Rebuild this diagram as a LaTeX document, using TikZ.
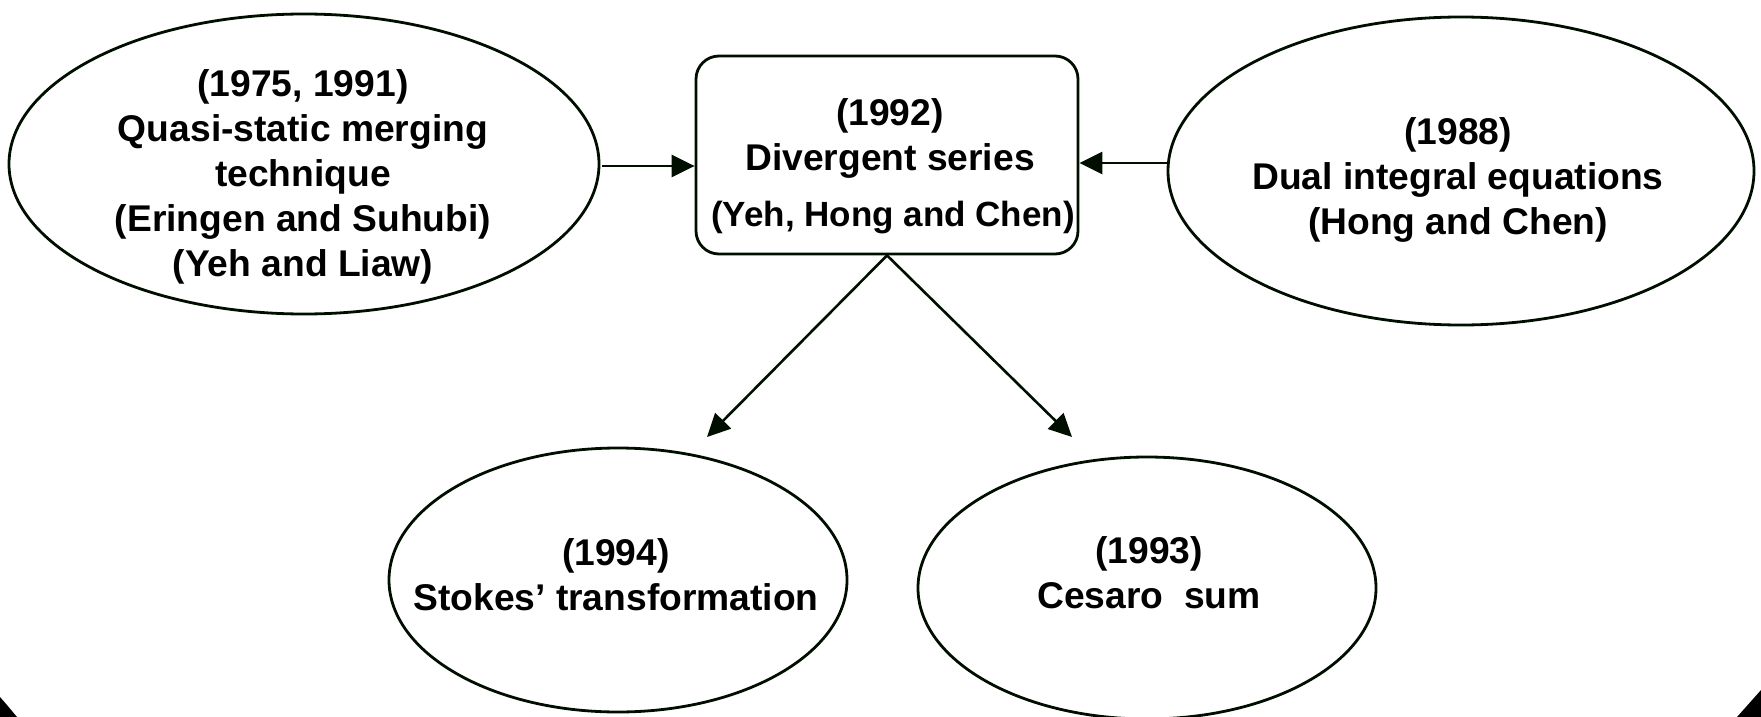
\documentclass[tikz,border=0pt]{standalone}
\usepackage{fontspec}
\setmainfont{Liberation Sans}
\usetikzlibrary{shapes.geometric,arrows.meta,calc}
\definecolor{ln}{RGB}{0,14,0}
\begin{document}
\begin{tikzpicture}[x=1pt,y=-1pt,
  ell/.style={draw=ln,line width=2.8pt,ellipse,inner sep=0pt},
  rbox/.style={draw=ln,line width=2.8pt,rectangle,rounded corners=23pt,inner sep=0pt},
  txt/.style={align=center,inner sep=0pt,font=\fontsize{37.2}{45}\selectfont\bfseries},
  conn/.style={draw=ln,line width=2.6pt,-{Triangle[length=23pt,width=22pt]}}]
\useasboundingbox (0,0) rectangle (1761,717);
\fill[black] (0,697) .. controls (7,705) .. (17,717) -- (0,717) -- cycle;
\fill[black] (1761,690) .. controls (1749,703) .. (1737,717) -- (1761,717) -- cycle;
% shapes
\node[ell,minimum width=590pt,minimum height=300pt] (qs) at (304,164) {};
\node[rbox,minimum width=382pt,minimum height=198pt] (ds) at (887,155) {};
\node[ell,minimum width=586pt,minimum height=308pt] (de) at (1461,171) {};
\node[ell,minimum width=458pt,minimum height=264pt] (st) at (618,580) {};
\node[ell,minimum width=458pt,minimum height=262pt] (cs) at (1147,588) {};
% texts
\node[txt] (qst) at (303,177) {(1975, 1991)\\Quasi-static merging\\technique\\(Eringen and Suhubi)\\(Yeh and Liaw)};
\node[txt] (dst) at (890,166) {(1992)\\Divergent series\\[11pt]\hspace*{6pt}{\fontsize{35}{45}\selectfont(Yeh, Hong and Chen)}};
\node[txt] (det) at (1458,180) {(1988)\\Dual integral equations\\(Hong and Chen)};
\node[txt] (stt) at (616,575) {(1994)\\Stokes’ transformation};
\node[txt] (cst) at (1149,573) {(1993)\\Cesaro\ \ sum};
% connectors
\coordinate (tipl) at (707,437);
\coordinate (tipr) at (1072,437);
\draw[conn] ($(qs.east)+(2,2)$) -- ($(qs.east -| ds.west)+(0,2)$);
\draw[conn] ($(de.west)+(0,-8)$) -- ($(de.west -| ds.east)+(0,-8)$);
\draw[conn] (ds.south) -- (tipl);
\draw[conn] (ds.south) -- (tipr);
\end{tikzpicture}
\end{document}
